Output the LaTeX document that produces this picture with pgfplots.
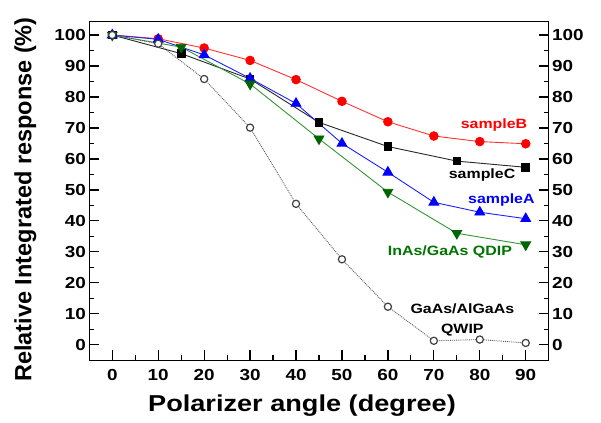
\documentclass[border=0pt]{standalone}
\usepackage{fontspec}
\setmainfont[FakeStretch=1.18]{Liberation Sans}
\newfontfamily\ylabfont{Liberation Sans}
\usepackage{pgfplots}
\pgfplotsset{compat=1.18}
\definecolor{qdgreen}{RGB}{0,100,0}
\definecolor{qdline}{RGB}{50,150,50}
\definecolor{qdtext}{RGB}{0,115,0}
\definecolor{bline}{RGB}{255,50,50}
\definecolor{cline}{RGB}{40,40,40}
\definecolor{aline}{RGB}{30,30,255}
\definecolor{qwline}{RGB}{90,90,90}
\begin{document}
\begin{tikzpicture}
\useasboundingbox (-89.3bp,-62.7bp) rectangle (511.7bp,360.3bp);
\pgfplotsset{common/.style={
  scale only axis, width=459.4bp, height=338.6bp,
  at={(0,0)}, anchor=south west,
  xmin=-5, xmax=95, ymin=-5, ymax=104.3,
  ytick={0,10,...,100}, minor ytick={5,15,...,95},
  tick align=inside, major tick length=10bp, minor tick length=5bp,
  major tick style={line width=1.2bp, black},
  minor tick style={line width=1.2bp, black},
  axis line style={line width=1.3bp},
  /pgf/number format/assume math mode=true,
  tick label style={font=\fontsize{16bp}{16bp}\selectfont\bfseries},
  xticklabel style={yshift=-6bp},
}}
\begin{axis}[common,
  xtick={0,10,...,90}, minor xtick={5,15,...,85},
  xtick pos=left, ytick pos=both, yticklabel pos=left,
  clip=false,
  xlabel={Polarizer angle (degree)},
  ylabel={Relative Integrated response (\%)},
  every axis x label/.style={at={(axis description cs:0.463,-0.135)}, anchor=center, font=\fontsize{23bp}{23bp}\selectfont\bfseries},
  every axis y label/.style={at={(axis description cs:-0.1393,0.475)}, rotate=90, anchor=center, font=\ylabfont\fontsize{23.5bp}{23.5bp}\selectfont\bfseries},
]
\addplot[color=bline, line width=0.9bp, mark=*, mark size=4.3bp, mark options={solid, fill=red, draw=red}]
  coordinates {(0,100) (10,98.8) (20,95.8) (30,91.8) (40,85.6) (50,78.6) (60,72) (70,67.4) (80,65.6) (90,64.9)};
\addplot[color=cline, line width=0.9bp, mark=square*, mark size=3.8bp, mark options={solid, fill=black, draw=black}]
  coordinates {(0,100) (15,94) (30,85.8) (45,71.8) (60,64) (75,59.3) (90,57.3)};
\addplot[color=aline, line width=0.9bp, mark=triangle*, mark size=5.6bp, mark options={solid, fill=blue, draw=blue}]
  coordinates {(0,100) (10,98.6) (20,93.6) (30,86) (40,77.9) (50,65) (60,55.7) (70,46) (80,42.8) (90,40.7)};
\addplot[color=qdline, line width=0.9bp, mark=triangle*, mark size=5.6bp, mark options={solid, rotate=180, fill=qdgreen, draw=qdgreen}]
  coordinates {(0,100) (15,96.1) (30,84.2) (45,66.5) (60,49.3) (75,36) (90,32.3)};
\addplot[color=qwline, line width=0.9bp, densely dotted, mark=*, mark size=3.6bp, mark options={solid, fill=white, draw=black!75, line width=1.2bp}]
  coordinates {(0,100) (10,97.2) (20,85.8) (30,70.1) (40,45.5) (50,27.6) (60,12.3) (70,1.3) (80,1.7) (90,0.6)};
\node[red, font=\fontsize{13.5bp}{13.5bp}\selectfont\bfseries] at (axis cs:83.1,70.8) {sampleB};
\node[black, font=\fontsize{13.5bp}{13.5bp}\selectfont\bfseries] at (axis cs:80.5,54.7) {sampleC};
\node[blue, font=\fontsize{13.5bp}{13.5bp}\selectfont\bfseries] at (axis cs:84.7,46.8) {sampleA};
\node[qdtext, font=\fontsize{13.5bp}{13.5bp}\selectfont\bfseries] at (axis cs:73.5,29.9) {InAs/GaAs QDIP};
\node[black, font=\fontsize{13.5bp}{13.5bp}\selectfont\bfseries, align=center] at (axis cs:76.2,8.0) {GaAs/AlGaAs\\[7bp]QWIP};
\end{axis}
\begin{axis}[common,
  hide x axis, ytick pos=right, yticklabel pos=right,
]
\addplot[draw=none] coordinates {(0,0)};
\end{axis}
\end{tikzpicture}
\end{document}
